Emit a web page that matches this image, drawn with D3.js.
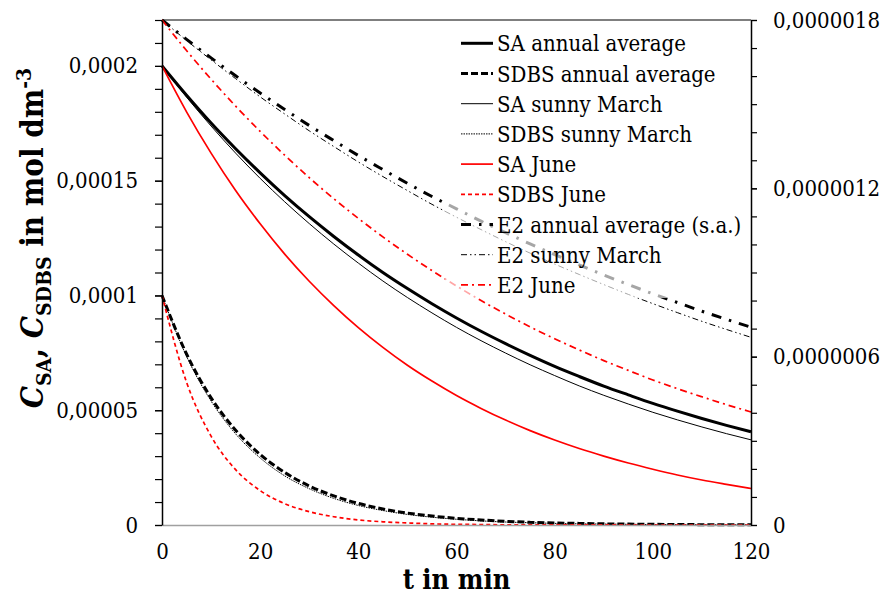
<html>
<head>
<script src="https://cdn.jsdelivr.net/npm/d3@7"></script>
<style>
  body { margin: 0; background: #fff; }
</style>
</head>
<body>
<svg width="884" height="597"></svg>
<script>
// time in minutes
var times = [0, 5, 10, 15, 20, 25, 30, 35, 40, 45, 50, 55, 60, 65, 70, 75, 80, 85, 90, 95, 100, 105, 110, 115, 120];

// left axis: concentrations in mol dm-3
var saAnnual = [0.000200, 0.0001872, 0.0001751, 0.0001639, 0.0001534, 0.0001435, 0.0001343, 0.0001257, 0.0001176, 0.0001100, 0.0001030, 0.0000964, 0.0000902, 0.0000844, 0.0000790, 0.0000739, 0.0000691, 0.0000647, 0.0000605, 0.0000567, 0.0000530, 0.0000496, 0.0000464, 0.0000434, 0.0000406];
var saMarch = [0.000200, 0.0001864, 0.0001738, 0.0001620, 0.0001510, 0.0001408, 0.0001313, 0.0001224, 0.0001141, 0.0001063, 0.0000991, 0.0000924, 0.0000861, 0.0000803, 0.0000749, 0.0000698, 0.0000651, 0.0000606, 0.0000565, 0.0000527, 0.0000491, 0.0000458, 0.0000427, 0.0000398, 0.0000371];
var saJune = [0.000200, 0.0001800, 0.0001620, 0.0001457, 0.0001312, 0.0001180, 0.0001062, 0.0000956, 0.0000860, 0.0000774, 0.0000696, 0.0000627, 0.0000564, 0.0000508, 0.0000457, 0.0000411, 0.0000370, 0.0000333, 0.0000300, 0.0000270, 0.0000243, 0.0000218, 0.0000196, 0.0000177, 0.0000159];
var sdbsAnnual = [0.000100, 0.0000745, 0.0000554, 0.0000413, 0.0000307, 0.0000229, 0.0000170, 0.0000127, 0.0000094, 0.0000070, 0.0000052, 0.0000039, 0.0000029, 0.0000022, 0.0000016, 0.0000012, 0.0000009, 0.0000007, 0.0000005, 0.0000004, 0.0000003, 0.0000002, 0.00000015, 0.0000001, 0.0000001];
var sdbsMarch = [0.000100, 0.0000735, 0.0000540, 0.0000397, 0.0000292, 0.0000214, 0.0000158, 0.0000116, 0.0000085, 0.0000063, 0.0000046, 0.0000034, 0.0000025, 0.0000018, 0.0000013, 0.0000010, 0.0000007, 0.0000005, 0.0000004, 0.0000003, 0.0000002, 0.0000002, 0.0000001, 0.0000001, 0.0000001];
var sdbsJune = [0.000100, 0.0000622, 0.0000387, 0.0000241, 0.0000150, 0.0000093, 0.0000058, 0.0000036, 0.0000022, 0.0000014, 0.0000009, 0.0000005, 0.0000003, 0.0000002, 0.0000001, 0.0000001, 0.00000005, 0.00000003, 0.00000002, 0.00000001, 0.00000001, 0, 0, 0, 0];

// right axis: E2
var e2Annual = [0.00000180, 0.000001731, 0.000001665, 0.000001601, 0.000001540, 0.000001481, 0.000001424, 0.000001370, 0.000001317, 0.000001267, 0.000001218, 0.000001171, 0.000001127, 0.000001083, 0.000001042, 0.000001002, 0.000000964, 0.000000927, 0.000000891, 0.000000857, 0.000000824, 0.000000793, 0.000000762, 0.000000733, 0.000000705];
var e2March = [0.00000180, 0.000001727, 0.000001658, 0.000001591, 0.000001526, 0.000001465, 0.000001405, 0.000001349, 0.000001294, 0.000001242, 0.000001192, 0.000001143, 0.000001097, 0.000001053, 0.000001010, 0.000000969, 0.000000930, 0.000000893, 0.000000857, 0.000000822, 0.000000789, 0.000000757, 0.000000726, 0.000000697, 0.000000669];
var e2June = [0.00000180, 0.000001691, 0.000001589, 0.000001493, 0.000001403, 0.000001318, 0.000001238, 0.000001163, 0.000001093, 0.000001027, 0.000000965, 0.000000907, 0.000000852, 0.000000800, 0.000000752, 0.000000706, 0.000000664, 0.000000624, 0.000000586, 0.000000551, 0.000000517, 0.000000486, 0.000000457, 0.000000429, 0.000000403];

// ticks
var xTicks = [0, 20, 40, 60, 80, 100, 120];
var leftTickValues = [0, 0.00005, 0.0001, 0.00015, 0.0002];
var leftTickLabels = ["0", "0,00005", "0,0001", "0,00015", "0,0002"];
var rightTickValues = [0, 0.0000006, 0.0000012, 0.0000018];
var rightTickLabels = ["0", "0,0000006", "0,0000012", "0,0000018"];

var seriesNames = ["SA annual average", "SDBS annual average", "SA sunny March", "SDBS sunny March",
  "SA June", "SDBS June", "E2 annual average (s.a.)", "E2 sunny March", "E2 June"];

var FONT = "DejaVu Serif Condensed, DejaVu Serif, serif";
var svg = d3.select("svg").attr("font-family", FONT);

var x = d3.scaleLinear().domain([0, 120]).range([162, 751]);
var yL = d3.scaleLinear().domain([0, 0.00022]).range([525, 20]);
var yR = d3.scaleLinear().domain([0, 0.0000018]).range([525, 20]);

var series = [
  {name: seriesNames[0], values: saAnnual, y: yL, color: "#000", width: 3, dash: null},
  {name: seriesNames[1], values: sdbsAnnual, y: yL, color: "#000", width: 3, dash: "7,3"},
  {name: seriesNames[2], values: saMarch, y: yL, color: "#000", width: 1, dash: null},
  {name: seriesNames[3], values: sdbsMarch, y: yL, color: "#000", width: 1, dash: "1.5,1"},
  {name: seriesNames[4], values: saJune, y: yL, color: "#ff0000", width: 1.7, dash: null},
  {name: seriesNames[5], values: sdbsJune, y: yL, color: "#ff0000", width: 1.7, dash: "4,3"},
  {name: seriesNames[6], values: e2Annual, y: yR, color: "#000", width: 3, dash: "10,8,2.5,8"},
  {name: seriesNames[7], values: e2March, y: yR, color: "#000", width: 1, dash: "6,3,1.5,3,1.5,3"},
  {name: seriesNames[8], values: e2June, y: yR, color: "#ff0000", width: 1.7, dash: "7,4,2,4"}
];

// frame: top line
svg.append("line")
  .attr("x1", x(0)).attr("x2", x(120))
  .attr("y1", yL(0.00022)).attr("y2", yL(0.00022))
  .attr("stroke", "#000").attr("stroke-width", 1.2);

// curves
series.forEach(function(s) {
  var line = d3.line()
    .x(function(d, i) { return x(times[i]); })
    .y(function(d) { return s.y(d); })
    .curve(d3.curveMonotoneX);
  svg.append("path")
    .datum(s.values)
    .attr("d", line)
    .attr("fill", "none")
    .attr("stroke", s.color)
    .attr("stroke-width", s.width)
    .attr("stroke-dasharray", s.dash);
});

// x axis
var gx = svg.append("g")
  .attr("transform", "translate(0,525)")
  .call(d3.axisBottom(x).tickValues(xTicks).tickSize(0).tickPadding(18).tickFormat(d3.format("d")));
gx.attr("font-family", FONT).attr("font-size", 22);
gx.select(".domain").attr("stroke", "#a0a0a0").attr("stroke-width", 1.5);

// left axis, minor then major
var minorLeft = d3.range(0, 23).map(function(i) { return i * 0.00001; });
svg.append("g")
  .attr("transform", "translate(162,0)")
  .call(d3.axisLeft(yL).tickValues(minorLeft).tickSize(7).tickFormat(""))
  .call(function(g) { g.select(".domain").remove(); })
  .selectAll("line").attr("stroke-width", 1.2);
var gl = svg.append("g")
  .attr("transform", "translate(162,0)")
  .call(d3.axisLeft(yL).tickValues(leftTickValues).tickSize(7).tickSizeOuter(0).tickPadding(17)
    .tickFormat(function(d, i) { return leftTickLabels[i]; }));
gl.attr("font-family", FONT).attr("font-size", 22);
gl.select(".domain").attr("stroke-width", 1.5);
gl.selectAll("line").attr("stroke-width", 1.2);

// right axis
var minorRight = d3.range(0, 19).map(function(i) { return i * 0.0000001; });
svg.append("g")
  .attr("transform", "translate(751,0)")
  .call(d3.axisRight(yR).tickValues(minorRight).tickSize(6).tickFormat(""))
  .call(function(g) { g.select(".domain").remove(); })
  .selectAll("line").attr("stroke-width", 1.2);
var gr = svg.append("g")
  .attr("transform", "translate(751,0)")
  .call(d3.axisRight(yR).tickValues(rightTickValues).tickSize(6).tickSizeOuter(0).tickPadding(16)
    .tickFormat(function(d, i) { return rightTickLabels[i]; }));
gr.attr("font-family", FONT).attr("font-size", 22);
gr.select(".domain").attr("stroke-width", 1.5);
gr.selectAll("line").attr("stroke-width", 1.2);

// axis titles
svg.append("text")
  .attr("x", (x(0) + x(120)) / 2)
  .attr("y", 589)
  .attr("text-anchor", "middle")
  .attr("font-size", 27)
  .attr("font-weight", "bold")
  .text("t in min");

var yt = svg.append("text")
  .attr("transform", "translate(43,238) rotate(-90)")
  .attr("text-anchor", "middle")
  .attr("font-size", 31)
  .attr("font-weight", "bold");
yt.append("tspan").attr("font-style", "italic").text("C");
yt.append("tspan").attr("font-size", 21).attr("dy", 8).text("SA");
yt.append("tspan").attr("dy", -8).text(", ");
yt.append("tspan").attr("font-style", "italic").text("C");
yt.append("tspan").attr("font-size", 21).attr("dy", 8).text("SDBS");
yt.append("tspan").attr("dy", -8).text(" in mol dm");
yt.append("tspan").attr("font-size", 21).attr("dy", -12).text("-3");

// legend
var legend = svg.append("g");
legend.append("rect")
  .attr("x", 445).attr("y", 24).attr("width", 300).attr("height", 274)
  .attr("fill", "#fff").attr("fill-opacity", 0.65);
series.forEach(function(s, i) {
  var ly = 43.3 + i * 30.2;
  legend.append("line")
    .attr("x1", 461).attr("x2", 493).attr("y1", ly).attr("y2", ly)
    .attr("stroke", s.color)
    .attr("stroke-width", s.width)
    .attr("stroke-dasharray", s.dash);
  legend.append("text")
    .attr("x", 497).attr("y", ly + 8)
    .attr("font-size", 22)
    .text(s.name);
});
</script>
</body>
</html>
